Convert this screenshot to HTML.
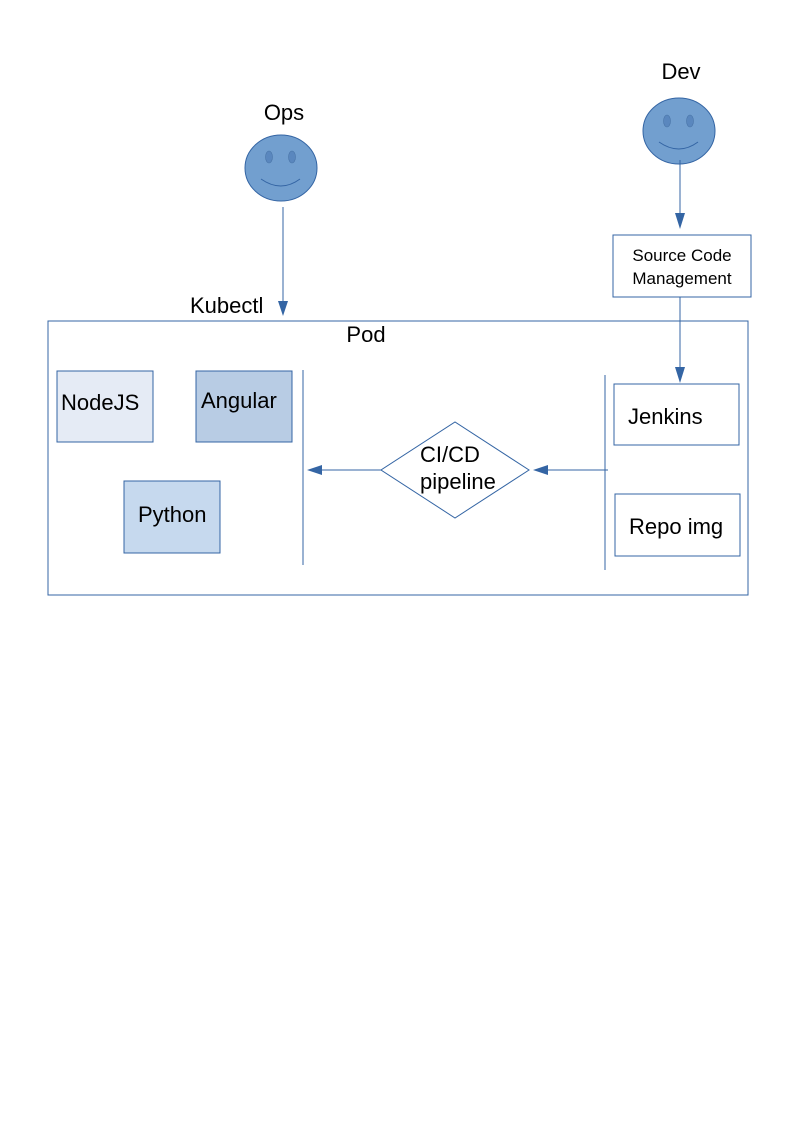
<!DOCTYPE html>
<html><head><meta charset="utf-8"><style>
html,body{margin:0;padding:0;background:#fff;}
svg{display:block;}
</style></head><body>
<svg width="794" height="1123" viewBox="0 0 794 1123" xmlns="http://www.w3.org/2000/svg">
<g stroke="#3465a4" stroke-width="1" fill="none">
<ellipse cx="281" cy="168" rx="36" ry="33" fill="#729fcf" stroke="#3465a4"/>
<ellipse cx="269" cy="157" rx="3.5" ry="6" fill="#5a87be" stroke="#4a75a8" stroke-width="0.6"/>
<ellipse cx="292" cy="157" rx="3.5" ry="6" fill="#5a87be" stroke="#4a75a8" stroke-width="0.6"/>
<path d="M261 179 Q281 193 300 179" stroke="#3465a4"/>
<ellipse cx="679" cy="131" rx="36" ry="33" fill="#729fcf" stroke="#3465a4"/>
<ellipse cx="667" cy="121" rx="3.5" ry="6" fill="#5a87be" stroke="#4a75a8" stroke-width="0.6"/>
<ellipse cx="690" cy="121" rx="3.5" ry="6" fill="#5a87be" stroke="#4a75a8" stroke-width="0.6"/>
<path d="M659 142 Q679 156 698 142" stroke="#3465a4"/>
<line x1="283" y1="207" x2="283" y2="302"/>
<polygon points="278,301 288,301 283,316" fill="#3465a4" stroke="none"/>
<line x1="680" y1="160" x2="680" y2="215"/>
<polygon points="675,213 685,213 680,229" fill="#3465a4" stroke="none"/>
<line x1="680" y1="297" x2="680" y2="368"/>
<polygon points="675,367 685,367 680,383" fill="#3465a4" stroke="none"/>
<rect x="613" y="235" width="138" height="62" fill="#fff"/>
<rect x="48" y="321" width="700" height="274"/>
<rect x="57" y="371" width="96" height="71" fill="#e5ebf5"/>
<rect x="196" y="371" width="96" height="71" fill="#b8cce4"/>
<rect x="124" y="481" width="96" height="72" fill="#c6d9ee"/>
<line x1="303" y1="370" x2="303" y2="565"/>
<line x1="605" y1="375" x2="605" y2="570"/>
<polygon points="381,470 455,422 529,470 455,518" fill="#fff"/>
<line x1="608" y1="470" x2="546" y2="470"/>
<polygon points="548,465 548,475 533,470" fill="#3465a4" stroke="none"/>
<line x1="381" y1="470" x2="320" y2="470"/>
<polygon points="322,465 322,475 307,470" fill="#3465a4" stroke="none"/>
<rect x="614" y="384" width="125" height="61"/>
<rect x="615" y="494" width="125" height="62"/>
</g>
<g font-family="Liberation Sans, DejaVu Sans, sans-serif" fill="#000">
<text x="284" y="120" font-size="22" text-anchor="middle">Ops</text>
<text x="681" y="79" font-size="22" text-anchor="middle">Dev</text>
<text x="682" y="261" font-size="17" text-anchor="middle">Source Code</text>
<text x="682" y="284" font-size="17" text-anchor="middle">Management</text>
<text x="190" y="313" font-size="22">Kubectl</text>
<text x="366" y="342" font-size="22" text-anchor="middle">Pod</text>
<text x="61" y="410" font-size="22">NodeJS</text>
<text x="201" y="408" font-size="22">Angular</text>
<text x="138" y="522" font-size="22">Python</text>
<text x="420" y="462" font-size="22">CI/CD</text>
<text x="420" y="489" font-size="22">pipeline</text>
<text x="628" y="424" font-size="22">Jenkins</text>
<text x="629" y="534" font-size="22">Repo img</text>
</g>
</svg>
</body></html>
